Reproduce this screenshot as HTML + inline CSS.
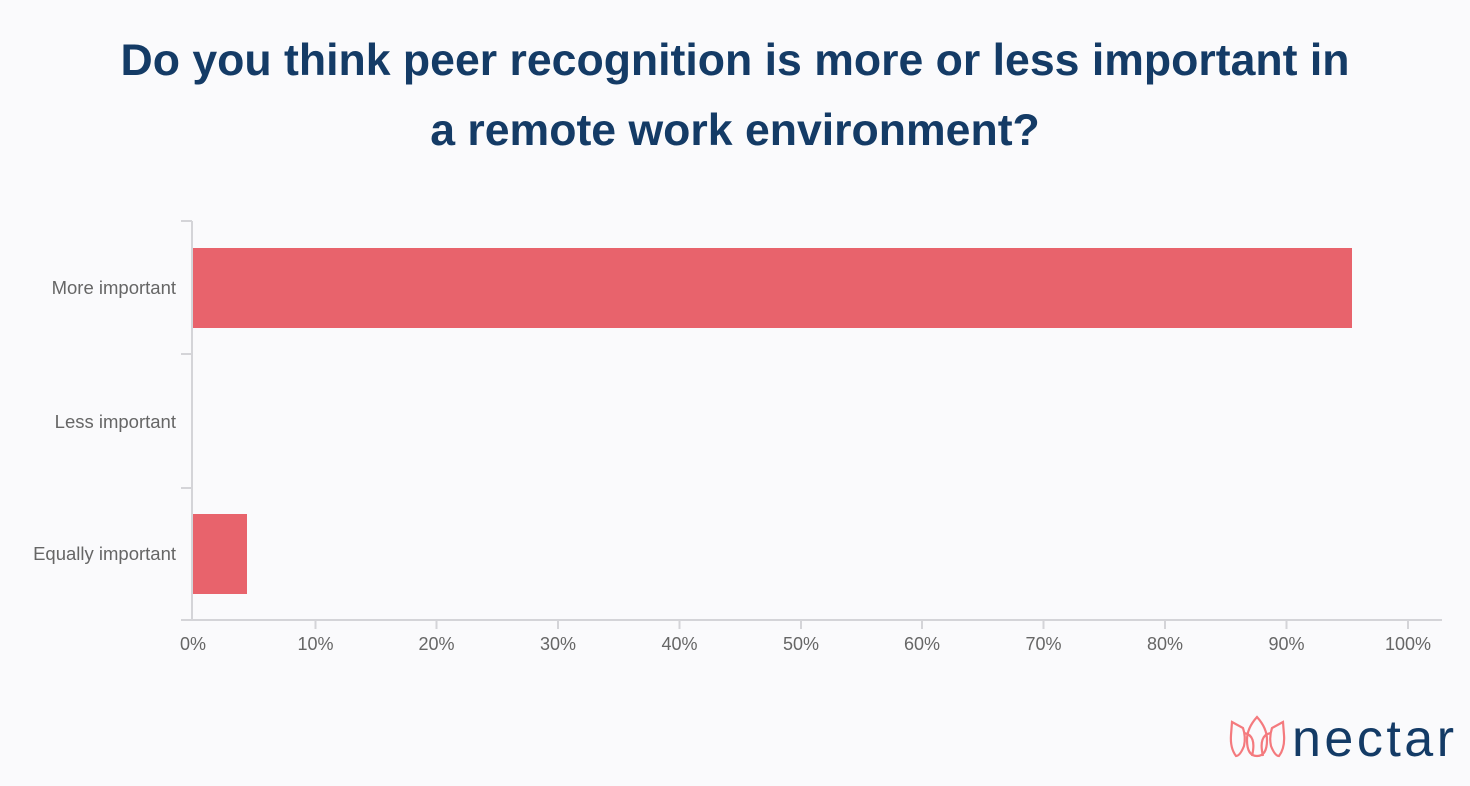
<!DOCTYPE html>
<html><head><meta charset="utf-8"><style>
html,body{margin:0;padding:0;background:#fafafc;}
body{width:1470px;height:786px;overflow:hidden;position:relative;font-family:"Liberation Sans",sans-serif;}
.t{position:absolute;left:0;width:1470px;text-align:center;color:#143b66;font-weight:bold;font-size:44.6px;}
</style></head><body>
<div class="t" style="top:36px">Do you think peer recognition is more or less important in</div>
<div class="t" style="top:106px">a remote work environment?</div>
<svg width="1470" height="786" style="position:absolute;left:0;top:0" font-family="Liberation Sans, sans-serif">
<g stroke="#d4d4d8" stroke-width="2" fill="none">
<line x1="192" y1="221" x2="192" y2="620"/>
<line x1="191" y1="620" x2="1442" y2="620"/>
<line x1="181" y1="221" x2="192" y2="221"/>
<line x1="181" y1="354" x2="192" y2="354"/>
<line x1="181" y1="488" x2="192" y2="488"/>
<line x1="181" y1="620" x2="192" y2="620"/>
<line x1="315.5" y1="620" x2="315.5" y2="629"/>
<line x1="436.5" y1="620" x2="436.5" y2="629"/>
<line x1="558" y1="620" x2="558" y2="629"/>
<line x1="679.5" y1="620" x2="679.5" y2="629"/>
<line x1="801" y1="620" x2="801" y2="629"/>
<line x1="922" y1="620" x2="922" y2="629"/>
<line x1="1043.5" y1="620" x2="1043.5" y2="629"/>
<line x1="1165" y1="620" x2="1165" y2="629"/>
<line x1="1286.5" y1="620" x2="1286.5" y2="629"/>
<line x1="1408" y1="620" x2="1408" y2="629"/>
</g>
<rect x="193" y="248" width="1159" height="80" fill="#e8636c"/>
<rect x="193" y="514" width="54" height="80" fill="#e8636c"/>
<g fill="#666" font-size="18.5" text-anchor="end">
<text x="176" y="294">More important</text>
<text x="176" y="428">Less important</text>
<text x="176" y="560">Equally important</text>
</g>
<g fill="#666" font-size="18" text-anchor="middle">
<text x="193" y="650">0%</text>
<text x="315.5" y="650">10%</text>
<text x="436.5" y="650">20%</text>
<text x="558" y="650">30%</text>
<text x="679.5" y="650">40%</text>
<text x="801" y="650">50%</text>
<text x="922" y="650">60%</text>
<text x="1043.5" y="650">70%</text>
<text x="1165" y="650">80%</text>
<text x="1286.5" y="650">90%</text>
<text x="1408" y="650">100%</text>
</g>
<g stroke="#f47a7e" stroke-width="2.2" fill="none">
<path d="M1232 722 L1243 728 Q1246 737 1244 746 Q1240 756 1236 756 Q1230 748 1231 735 Z"/>
<path d="M1283 722 L1272 728 Q1269 737 1271 746 Q1275 756 1279 756 Q1285 748 1284 735 Z"/>
<path d="M1257 717 Q1267 728 1267 740 Q1267 756 1257 756 Q1247 756 1247 740 Q1247 728 1257 717 Z"/>
<path d="M1244 733 Q1257 735 1252 756 M1271 733 Q1258 735 1263 756"/>
</g>
<text x="1292" y="756" fill="#143b66" font-size="52" letter-spacing="3.5">nectar</text>
</svg>
</body></html>
